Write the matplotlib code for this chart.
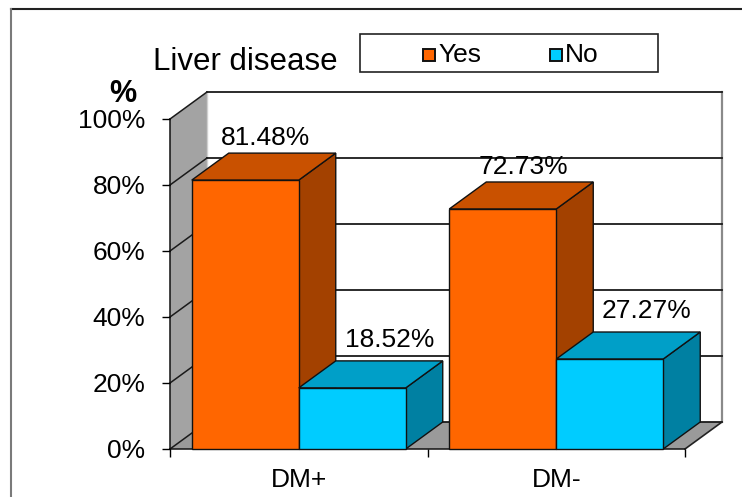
import matplotlib
matplotlib.use("Agg")
import matplotlib.pyplot as plt
from matplotlib.patches import Polygon, Rectangle
from matplotlib.lines import Line2D
from matplotlib.ticker import FuncFormatter

plt.rcParams['font.family'] = ['Liberation Sans', 'DejaVu Sans']

# Data
categories = ["DM+", "DM-"]
series_names = ["Yes", "No"]
yes_values = [81.48, 72.73]
no_values = [18.52, 27.27]
y_ticks = [0, 20, 40, 60, 80, 100]
title_text = "Liver disease"

W, H = 742, 497
fig = plt.figure(figsize=(W / 100, H / 100), dpi=100)
fig.patch.set_facecolor("white")


def fx(x):
    return x / W


def fy(y):
    return 1 - y / H


# front plane of the 3-D box
ax = fig.add_axes([fx(170), fy(449), (685 - 170) / W, (449 - 119) / H])
ax.set_xlim(0, len(categories))
ax.set_ylim(0, 100)
ax.patch.set_visible(False)

# depth offset of the box, in data units
DX = 37 / 515 * len(categories)
DY = 27 / 330 * 100
bar_w = 0.4155
ncat = len(categories)

wall_col = "#A3A3A3"
floor_col = "#9A9A9A"
grid_col = "#1a1a1a"

# side wall
ax.add_patch(Polygon([(0, 0), (0, 100), (DX, 100 + DY), (DX, DY)], closed=True,
                     facecolor=wall_col, edgecolor="none", clip_on=False, zorder=0.5))
ax.add_line(Line2D([DX, DX], [DY, 100 + DY], color="#d0d0d0", lw=1.0, clip_on=False, zorder=0.6))
# floor
ax.add_patch(Polygon([(0, 0), (ncat, 0), (ncat + DX, DY), (DX, DY)], closed=True,
                     facecolor=floor_col, edgecolor="none", clip_on=False, zorder=0.5))
ax.add_line(Line2D([ncat, ncat + DX], [0, DY], color="#222222", lw=1.2, clip_on=False, zorder=0.7))
# back wall right edge
ax.add_line(Line2D([ncat + DX, ncat + DX], [DY, 100 + DY], color="#8a8a8a", lw=1.6,
                   clip_on=False, zorder=0.7))
# gridlines on back wall and side wall
for t in y_ticks:
    ax.add_line(Line2D([DX, ncat + DX], [t + DY, t + DY], color=grid_col, lw=1.3,
                       clip_on=False, zorder=0.7))
    ax.add_line(Line2D([0, DX], [t, t + DY], color=grid_col, lw=1.1,
                       clip_on=False, zorder=0.7))

face_cols = {
    "Yes": ("#FF6600", "#C95100", "#A34100"),
    "No": ("#00CCFF", "#009FC8", "#0080A2"),
}
# value label placement relative to each bar (x in depth units, y in %)
label_shift = {"Yes": (0.55, 12.8), "No": (1.0, 14.5)}


def draw_bar(x0, v, cols, z):
    front, top, side = cols
    x1 = x0 + bar_w
    kw = dict(closed=True, edgecolor="#111111", lw=1.0, clip_on=False, zorder=z,
              joinstyle="miter")
    ax.add_patch(Polygon([(x1, 0), (x1 + DX, DY), (x1 + DX, v + DY), (x1, v)], facecolor=side, **kw))
    ax.add_patch(Polygon([(x0, v), (x1, v), (x1 + DX, v + DY), (x0 + DX, v + DY)], facecolor=top, **kw))
    ax.add_patch(Polygon([(x0, 0), (x1, 0), (x1, v), (x0, v)], facecolor=front, **kw))


z = 2
for i, cat in enumerate(categories):
    c = i + 0.5
    for name, vals, x0 in (("Yes", yes_values, c - bar_w), ("No", no_values, c)):
        v = vals[i]
        draw_bar(x0, v, face_cols[name], z)
        z += 0.1
        sx, sy = label_shift[name]
        ax.text(x0 + bar_w / 2 + sx * DX, v + sy, f"{v:.2f}%", ha="center", va="center",
                fontsize=19, color="black", zorder=5, clip_on=False)

# axes: spines, ticks, labels
for s in ("top", "right"):
    ax.spines[s].set_visible(False)
for s in ("left", "bottom"):
    ax.spines[s].set_color("#111111")
    ax.spines[s].set_linewidth(1.1)
    ax.spines[s].set_zorder(0.8)

ax.set_yticks(y_ticks)
ax.yaxis.set_major_formatter(FuncFormatter(lambda v, p: f"{v:.0f}%"))
ax.tick_params(axis="y", direction="out", length=5.8, width=1, labelsize=19, pad=12)
ax.set_xticks(range(ncat + 1))
ax.set_xticklabels([])
ax.tick_params(axis="x", which="major", direction="out", length=5.8, width=1)
ax.set_xticks([i + 0.5 for i in range(ncat)], minor=True)
ax.set_xticklabels(categories, minor=True)
ax.tick_params(axis="x", which="minor", length=0, labelsize=19, pad=14)

# axis unit and title
fig.text(fx(123), fy(102), "%", ha="center", va="baseline", fontsize=22, fontweight="bold")
fig.text(fx(153), fy(70), title_text, ha="left", va="baseline", fontsize=22.5)

# legend box
fig.patches.append(Rectangle((fx(360), fy(72)), (658 - 360) / W, (72 - 34) / H,
                             transform=fig.transFigure, facecolor="white",
                             edgecolor="#222222", lw=1.2))
for name, sx in (("Yes", 423), ("No", 550)):
    fig.patches.append(Rectangle((fx(sx), fy(61)), 12 / W, 12 / H, transform=fig.transFigure,
                                 facecolor=face_cols[name][0], edgecolor="#111111", lw=1.4))
    fig.text(fx(sx + 15), fy(62), name, ha="left", va="baseline", fontsize=19)

# outer frame
fig.lines.append(Line2D([fx(11), 1.0], [fy(9), fy(9)], transform=fig.transFigure,
                        color="#222222", lw=1.5))
fig.lines.append(Line2D([fx(11), fx(11)], [fy(9), 0.0], transform=fig.transFigure,
                        color="#7a7a7a", lw=1.5))

fig.savefig("out.png", dpi=100)
